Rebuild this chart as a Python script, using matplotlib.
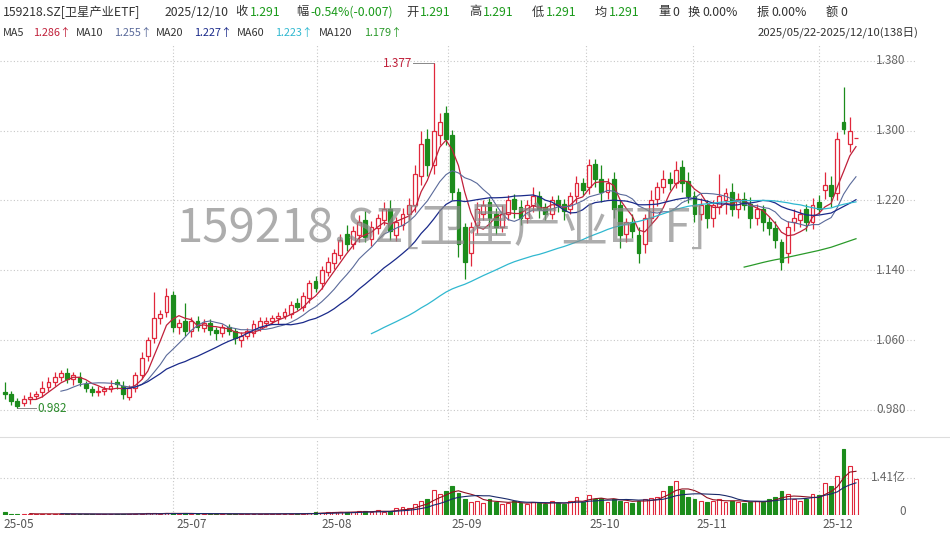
import matplotlib
matplotlib.use("Agg")
import matplotlib.pyplot as plt
import numpy as np
from matplotlib.patches import Rectangle

plt.rcParams['font.family'] = ['Noto Sans CJK SC', 'DejaVu Sans']

closes = [0.998,0.990,0.985,0.992,0.995,0.998,1.005,1.012,1.018,1.022,1.015,1.020,1.012,1.005,1.000,1.002,1.004,1.008,1.010,0.998,1.005,
          1.020,1.040,1.060,1.085,1.090,1.110,1.075,
          1.080,1.070,1.082,1.075,1.080,1.072,1.068,1.075,1.070,1.062,1.065,
          1.070,1.078,1.082,1.082,1.085,1.088,1.092,1.100,1.098,1.110,
          1.125,1.120,1.140,1.150,1.160,1.175,1.170,
          1.185,1.195,1.178,1.190,1.200,1.210,1.185,1.195,1.205,1.215,
          1.250,1.285,1.260,1.300,1.310,
          1.290,1.230,1.170,1.150,1.190,1.210,
          1.215,1.200,1.190,1.205,1.220,1.210,1.200,1.215,1.225,1.210,1.205,1.220,1.215,1.208,1.225,1.240,1.232,1.260,1.245,
          1.230,1.240,1.210,1.180,1.195,1.185,1.160,1.200,1.220,
          1.235,1.245,1.240,1.255,1.240,1.225,1.205,1.215,1.200,
          1.215,1.225,1.228,1.210,1.222,1.215,1.200,1.210,1.195,1.188,1.175,1.150,
          1.190,1.200,1.205,1.195,1.215,1.210,
          1.238,1.225,1.290,1.302,1.300,1.291]
opens = [1.000,0.998,0.990,0.988,0.992,0.996,1.000,1.006,1.012,1.018,1.022,1.015,1.018,1.010,1.004,1.000,1.002,1.004,1.012,1.008,0.995,
         1.005,1.020,1.042,1.062,1.085,1.092,1.112,
         1.075,1.082,1.070,1.082,1.074,1.080,1.072,1.068,1.075,1.070,1.060,
         1.065,1.068,1.075,1.080,1.082,1.085,1.088,1.090,1.102,1.098,
         1.108,1.128,1.125,1.138,1.148,1.158,1.182,
         1.170,1.180,1.198,1.176,1.188,1.198,1.210,1.180,1.192,1.205,
         1.215,1.248,1.290,1.260,1.295,
         1.320,1.295,1.230,1.190,1.160,1.192,
         1.205,1.218,1.205,1.190,1.205,1.222,1.212,1.200,1.215,1.225,1.212,1.205,1.220,1.216,1.210,1.225,1.240,1.235,1.262,
         1.245,1.230,1.245,1.215,1.182,1.195,1.180,1.170,1.200,
         1.222,1.235,1.245,1.240,1.258,1.242,1.225,1.205,1.215,
         1.200,1.212,1.220,1.230,1.210,1.222,1.216,1.200,1.210,1.195,1.188,1.172,
         1.160,1.195,1.198,1.210,1.195,1.218,
         1.232,1.238,1.228,1.310,1.285,1.291]
upper_wick = [0.012,0.004,0.004,0.005,0.006,0.004,0.008,0.006,0.005,0.004,0.006,0.004,0.005,0.003,0.004,0.005,0.004,0.006,0.004,0.005,0.004,
              0.004,0.006,0.004,0.030,0.005,0.010,0.004,
              0.004,0.020,0.004,0.006,0.004,0.004,0.003,0.004,0.004,0.004,0.004,
              0.004,0.005,0.004,0.005,0.004,0.004,0.005,0.005,0.006,0.005,
              0.004,0.006,0.005,0.005,0.004,0.006,0.010,
              0.006,0.008,0.010,0.006,0.005,0.008,0.010,0.006,0.006,0.008,
              0.010,0.015,0.012,0.077,0.010,
              0.008,0.006,0.004,0.004,0.005,0.008,
              0.006,0.005,0.006,0.010,0.006,0.005,0.008,0.006,0.010,0.006,0.005,0.005,0.006,0.006,0.005,0.008,0.006,0.008,0.006,
              0.015,0.006,0.008,0.006,0.005,0.010,0.010,0.005,0.012,
              0.006,0.010,0.008,0.010,0.008,0.010,0.006,0.008,0.006,
              0.006,0.025,0.006,0.010,0.006,0.008,0.008,0.006,0.005,0.006,0.008,0.004,
              0.006,0.010,0.005,0.006,0.008,0.008,
              0.015,0.010,0.008,0.040,0.015,0.0]
lower_wick = [0.006,0.004,0.003,0.004,0.005,0.004,0.005,0.004,0.004,0.005,0.004,0.006,0.004,0.005,0.004,0.004,0.005,0.004,0.006,0.005,0.004,
              0.005,0.004,0.006,0.005,0.006,0.005,0.006,
              0.008,0.005,0.006,0.004,0.005,0.006,0.008,0.005,0.004,0.006,0.008,
              0.004,0.005,0.004,0.005,0.004,0.006,0.004,0.005,0.004,0.005,
              0.006,0.005,0.006,0.005,0.006,0.005,0.008,
              0.006,0.008,0.006,0.008,0.006,0.006,0.010,0.006,0.006,0.008,
              0.008,0.010,0.012,0.010,0.012,
              0.006,0.010,0.015,0.020,0.015,0.010,
              0.008,0.010,0.008,0.006,0.008,0.010,0.008,0.006,0.008,0.010,0.008,0.006,0.008,0.010,0.006,0.008,0.006,0.008,0.010,
              0.012,0.008,0.010,0.015,0.010,0.008,0.012,0.010,0.008,
              0.008,0.006,0.008,0.006,0.010,0.008,0.010,0.008,0.012,
              0.010,0.008,0.015,0.008,0.010,0.006,0.012,0.008,0.010,0.008,0.010,0.010,
              0.012,0.010,0.008,0.010,0.008,0.006,
              0.010,0.012,0.008,0.006,0.010,0.0]
volumes = [0.10,0.05,0.04,0.04,0.04,0.05,0.04,0.05,0.04,0.04,0.04,0.03,0.04,0.04,0.03,0.03,0.03,0.04,0.04,0.04,0.05,
           0.04,0.05,0.06,0.06,0.05,0.08,0.06,
           0.05,0.06,0.05,0.04,0.04,0.04,0.04,0.04,0.04,0.04,0.04,
           0.04,0.04,0.04,0.05,0.04,0.04,0.05,0.04,0.05,0.05,
           0.06,0.10,0.08,0.12,0.10,0.12,0.10,
           0.12,0.15,0.14,0.12,0.18,0.12,0.15,0.25,0.30,0.25,
           0.40,0.55,0.60,0.95,0.80,
           0.90,1.10,0.85,0.60,0.50,0.55,
           0.45,0.60,0.50,0.40,0.45,0.55,0.45,0.40,0.50,0.45,0.40,0.55,0.45,0.40,0.55,0.70,0.50,0.75,0.60,
           0.65,0.50,0.60,0.55,0.50,0.45,0.55,0.60,0.65,
           0.70,0.90,1.10,1.30,0.95,0.70,0.60,0.55,0.50,
           0.55,0.60,0.50,0.55,0.50,0.45,0.50,0.55,0.50,0.60,0.70,0.90,
           0.80,0.60,0.55,0.60,0.80,0.75,
           1.20,1.10,1.50,2.50,1.85,1.35]
price_ticks = [1.380, 1.300, 1.220, 1.140, 1.060, 0.980]
month_labels = ["25-05", "25-07", "25-08", "25-09", "25-10", "25-11", "25-12"]
month_pos = [-0.8, 27, 50.3, 71.3, 93.5, 110.8, 131]

c = np.array(closes); o = np.array(opens)
hi = np.maximum(o, c) + np.array(upper_wick)
lo = np.minimum(o, c) - np.array(lower_wick)
v = np.array(volumes)
n = len(c)
x = np.arange(n)

RED = '#e0283c'; GREEN = '#1c8c1c'
W, H = 950, 538
fig = plt.figure(figsize=(9.5, 5.38), dpi=100)
ax = fig.add_axes([0, 1-420/H, 915/W, (420-45)/H])
axv = fig.add_axes([0, 1-515/H, 915/W, (515-440)/H])

def ma(a, k):
    out = np.full(len(a), np.nan)
    for i in range(k-1, len(a)):
        out[i] = a[i-k+1:i+1].mean()
    return out

bw = 0.62
for i in range(n):
    up = c[i] >= o[i]
    col = RED if up else GREEN
    ax.vlines(i, lo[i], hi[i], color=col, lw=0.9, zorder=3)
    b = min(o[i], c[i]); h = max(abs(c[i]-o[i]), 0.0008)
    ax.add_patch(Rectangle((i-bw/2, b), bw, h, facecolor='white' if up else col,
                           edgecolor=col, lw=0.9, zorder=4))
    axv.add_patch(Rectangle((i-bw/2, 0), bw, v[i], facecolor='white' if up else col,
                            edgecolor=col, lw=0.8, zorder=3))

ax.plot(x, ma(c, 5), color='#c0203a', lw=0.9, zorder=5)
ax.plot(x, ma(c, 10), color='#5a6a9a', lw=0.8, zorder=5)
ax.plot(x, ma(c, 20), color='#1a2a8a', lw=0.9, zorder=5)
ax.plot(x, ma(c, 60), color='#30b8d0', lw=0.9, zorder=5)
ax.plot(x, ma(c, 120), color='#2a9a2a', lw=0.9, zorder=5)
axv.plot(x, ma(v, 5), color='#901020', lw=0.8, zorder=4)
axv.plot(x, ma(v, 10), color='#1a2a6a', lw=0.8, zorder=4)

ax.set_xlim(-0.8, 146.5); axv.set_xlim(-0.8, 146.5)
ax.set_ylim(0.9685, 1.398)
axv.set_ylim(0, 2.85)
for a in (ax, axv):
    a.set_xticks([]); a.set_yticks([])
    for s in a.spines.values():
        s.set_visible(False)
for t in price_ticks:
    ax.axhline(t, color='#c8c8c8', lw=0.8, ls=(0, (1, 2)), zorder=1)
    ax.text(0.99, t, f"{t:.3f}", transform=ax.get_yaxis_transform(), ha='right', va='center',
            fontsize=8.5, color='#666666')
axv.axhline(1.41, color='#c8c8c8', lw=0.8, ls=(0, (1, 2)))
axv.text(0.99, 1.41, "1.41亿", transform=axv.get_yaxis_transform(), ha='right', va='center', fontsize=8.5, color='#666666')
axv.text(0.99, 0.12, "0", transform=axv.get_yaxis_transform(), ha='right', va='center', fontsize=8.5, color='#666666')
for p, lab in zip(month_pos, month_labels):
    if p > 0:
        ax.axvline(p, color='#c8c8c8', lw=0.8, ls=(0, (1, 2)), zorder=1)
        axv.axvline(p, color='#c8c8c8', lw=0.8, ls=(0, (1, 2)), zorder=1)
    fig.text((5 + 6.21*(p+0.8) + 14)/W, 1-525/H, lab, ha='center', va='center', fontsize=8.5, color='#555555')
fig.add_artist(plt.Line2D([0, 1], [1-437/H]*2, color='#dddddd', lw=0.8))

imax = int(np.argmax(hi)); imin = int(np.argmin(lo))
ax.plot([imax-3.3, imax], [hi[imax], hi[imax]], color='#888888', lw=0.7)
ax.text(imax-3.5, hi[imax], f"{hi[imax]:.3f}", ha='right', va='center', fontsize=8.5, color='#c0203a')
ax.plot([imin, imin+3], [lo[imin], lo[imin]], color='#888888', lw=0.7)
ax.text(imin+3.2, lo[imin], f"{lo[imin]:.3f}", ha='left', va='center', fontsize=8.5, color='#2a8a2a')

ax.text(0.483, 0.51, "159218.SZ[卫星产业ETF]", transform=ax.transAxes, ha='center', va='center',
        fontsize=34, color='#8a8a8a', alpha=0.7, zorder=6)

G = '#1a9a1a'
y1 = 1-12/H
parts = [("159218.SZ[卫星产业ETF]", '#333333', 3), ("2025/12/10", '#333333', 165), ("收", '#333333', 235), ("1.291", G, 250),
         ("幅", '#333333', 296), ("-0.54%(-0.007)", G, 310), ("开", '#333333', 406), ("1.291", G, 420),
         ("高", '#333333', 469), ("1.291", G, 483), ("低", '#333333', 532), ("1.291", G, 546),
         ("均", '#333333', 595), ("1.291", G, 609), ("量", '#333333', 658), ("0", '#333333', 672),
         ("换", '#333333', 688), ("0.00%", '#333333', 702), ("振", '#333333', 757), ("0.00%", '#333333', 771),
         ("额", '#333333', 826), ("0", '#333333', 840)]
for t, col, px in parts:
    fig.text(px/W, y1, t, ha='left', va='center', fontsize=8.8, color=col)
y2 = 1-33/H
parts2 = [("MA5", '#333333', 3), ("1.286↑", '#c0203a', 33), ("MA10", '#333333', 76), ("1.255↑", '#5a6a9a', 114),
          ("MA20", '#333333', 156), ("1.227↑", '#1a2a8a', 194), ("MA60", '#333333', 237), ("1.223↑", '#30b8d0', 275),
          ("MA120", '#333333', 319), ("1.179↑", '#2a9a2a', 364)]
for t, col, px in parts2:
    fig.text(px/W, y2, t, ha='left', va='center', fontsize=7.8, color=col)
fig.text(918/W, y2, "2025/05/22-2025/12/10(138日)", ha='right', va='center', fontsize=8.2, color='#333333')

fig.savefig("out.png", dpi=100, facecolor='white')
